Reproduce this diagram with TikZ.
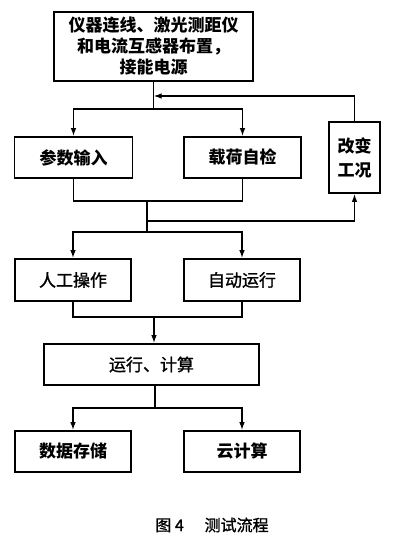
\documentclass[tikz,border=0pt]{standalone}
\usepackage{fontspec}
\newfontfamily\cjk{Noto Sans CJK SC}
\newfontfamily\cjkm[FakeBold=1.2]{Noto Sans CJK SC}
\usetikzlibrary{arrows.meta}
\begin{document}
\begin{tikzpicture}[x=1pt,y=-1pt,
  box/.style={draw,line width=1.6pt,minimum width=#1,inner sep=0pt,align=center,font=\cjkm\fontsize{17}{20}\selectfont},
  boldbox/.style={box=#1,font=\cjk\bfseries\fontsize{17}{20}\selectfont},
  line/.style={line width=1.5pt},
  arr/.style={line width=1.5pt,-{Latex[length=8pt,width=5.5pt]}}]
\useasboundingbox (0,0) rectangle (395,538);
\node[boldbox=199pt,minimum height=69pt,font=\cjk\bfseries\fontsize{17}{21}\selectfont] (top) at (153.5,46.5) {仪器连线、激光测距仪\\和电流互感器布置，\\接能电源};
\node[boldbox=118pt,minimum height=41pt] (p1) at (73.5,157.5) {参数输入};
\node[boldbox=117pt,minimum height=41pt] (p2) at (242.5,157.5) {载荷自检};
\node[boldbox=51pt,minimum height=71pt,font=\cjk\bfseries\fontsize{17}{24}\selectfont] (gk) at (354.5,157.5) {改变\\工况};
\node[box=116pt,minimum height=42pt] (m1) at (73,280) {人工操作};
\node[box=116pt,minimum height=42pt] (m2) at (242,280) {自动运行};
\node[box=215pt,minimum height=41pt] (run) at (151.5,364.5) {运行、计算};
\node[boldbox=116pt,minimum height=41pt] (d1) at (73,451.5) {数据存储};
\node[boldbox=116pt,minimum height=41pt] (d2) at (242,451.5) {云计算};
\node[font=\cjkm\fontsize{16}{18}\selectfont] (cap) at (212,525) {图 4\hspace{1.3em}测试流程};
% top split
\coordinate (j1) at (153.5,109);
\coordinate (fb) at (153.5,96);
\draw[line] (top.south) -- (j1);
\draw[arr] (j1) -| (p1.north);
\draw[arr] (j1) -| (p2.north);
\draw[arr] (gk.north) |- (fb);
% join 1
\coordinate (j2) at (147,201);
\coordinate (jb) at (147,221);
\coordinate (j3) at (147,232);
\draw[line] (p1.south) |- (j2);
\draw[line] (p2.south) |- (j2);
\draw[line] (j2) -- (j3);
\draw[arr] (jb) -| (gk.south);
\draw[arr] (j3) -| (m1.north);
\draw[arr] (j3) -| (m2.north);
% join 2
\coordinate (j4) at (154,317);
\draw[line] (m1.south) |- (j4);
\draw[line] (m2.south) |- (j4);
\draw[arr] (j4) -- (j4 |- run.north);
% bottom split
\coordinate (j5) at (155,408);
\draw[line] (j5 |- run.south) -- (j5);
\draw[arr] (j5) -| (d1.north);
\draw[arr] (j5) -| (d2.north);
\end{tikzpicture}
\end{document}
